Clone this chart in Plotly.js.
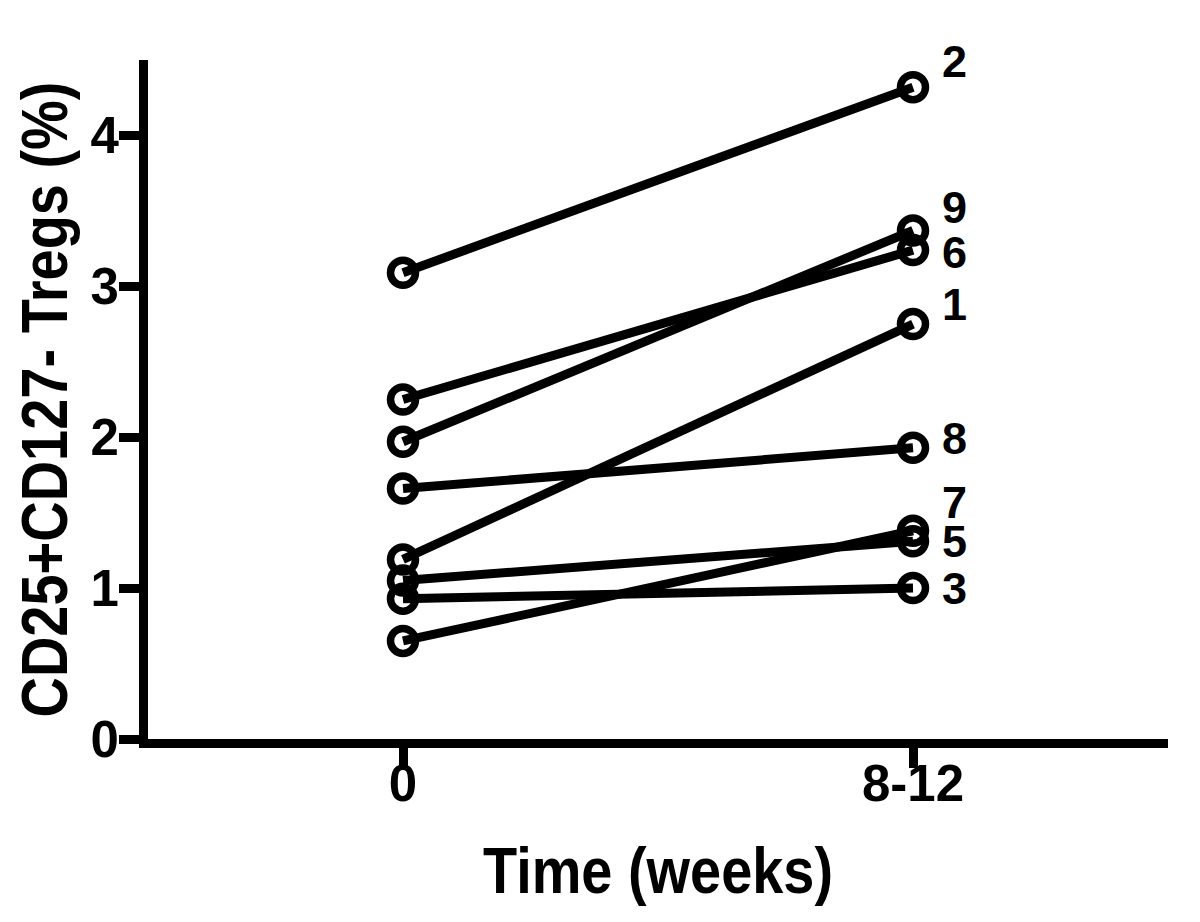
<!DOCTYPE html>
<html>
<head>
<meta charset="utf-8">
<script src="https://cdn.plot.ly/plotly-3.0.1.min.js"></script>
<style>
  html, body { margin: 0; padding: 0; background: #ffffff; }
  #chart { width: 1200px; height: 922px; }
</style>
</head>
<body>
<div id="chart"></div>
<script>
// ---- data ----
var subjects   = ['1', '2', '3', '5', '6', '7', '8', '9'];
var week0      = [1.19, 3.09, 0.93, 1.05, 2.25, 0.65, 1.66, 1.97];
var week8to12  = [2.75, 4.32, 1.00, 1.31, 3.24, 1.38, 1.93, 3.37];
var timeTickVals = [0, 1];
var timeTickText = ['0', '8-12'];
var yTickVals  = [0, 1, 2, 3, 4];

// label offsets (pixels) so labels don't collide, as in the reference
var labelYShift = {'1': 20, '2': 26, '3': 0, '5': 0, '6': -2, '7': 28, '8': 9, '9': 23};

var titleFont = {family: '"Liberation Sans", Arial, sans-serif', size: 64, color: '#000000', weight: 'bold'};
var tickFont  = {family: '"Liberation Sans", Arial, sans-serif', size: 51, color: '#000000', weight: 'bold'};
var labelFont = {family: '"Liberation Sans", Arial, sans-serif', size: 45, color: '#000000', weight: 'bold'};

var traces = subjects.map(function (s, i) {
  return {
    type: 'scatter',
    mode: 'lines+markers',
    x: [timeTickVals[0], timeTickVals[1]],
    y: [week0[i], week8to12[i]],
    name: 'Subject ' + s,
    line: {color: '#000000', width: 9},
    marker: {symbol: 'circle-open', size: 25, color: '#000000', line: {color: '#000000', width: 7.5}},
    showlegend: false,
    hoverinfo: 'x+y+name'
  };
});

var annotations = subjects.map(function (s, i) {
  return {
    x: timeTickVals[1], y: week8to12[i], xref: 'x', yref: 'y',
    text: '<b>' + s + '</b>', showarrow: false,
    xshift: 41, yshift: labelYShift[s],
    font: labelFont, xanchor: 'center', yanchor: 'middle'
  };
});

var layout = {
  width: 1200, height: 922,
  margin: {l: 148, r: 32, t: 60, b: 183, pad: 0},
  paper_bgcolor: '#ffffff', plot_bgcolor: '#ffffff',
  showlegend: false,
  xaxis: {
    range: [-0.5, 1.5],
    tickvals: timeTickVals, ticktext: timeTickText,
    showgrid: false, zeroline: false,
    showline: true, linecolor: '#000000', linewidth: 9,
    ticks: 'outside', ticklen: 20, tickwidth: 9, tickcolor: '#000000',
    tickfont: tickFont, ticklabelstandoff: -28,
    title: {text: '<b>Time (weeks)</b>', font: titleFont, standoff: 40},
    fixedrange: true
  },
  yaxis: {
    range: [0, 4.5],
    tickvals: yTickVals,
    showgrid: false, zeroline: false,
    showline: true, linecolor: '#000000', linewidth: 9,
    ticks: 'outside', ticklen: 20, tickwidth: 9, tickcolor: '#000000',
    tickfont: tickFont, ticklabelstandoff: -10,
    title: {text: '<b>CD25+CD127- Tregs (%)</b>', font: titleFont, standoff: 6},
    fixedrange: true
  },
  annotations: annotations
};

// The reference titles use a condensed bold face; compress the real text to the reference's length.
function condenseTitles(gd) {
  var targets = [['.xtitle', 350], ['.ytitle', 636]];
  targets.forEach(function (t) {
    var el = gd.querySelector(t[0]);
    if (el) {
      el.setAttribute('textLength', t[1]);
      el.setAttribute('lengthAdjust', 'spacingAndGlyphs');
    }
  });
}

Plotly.newPlot('chart', traces, layout, {displayModeBar: false}).then(function (gd) {
  condenseTitles(gd);
  gd.on('plotly_afterplot', function () { condenseTitles(gd); });
});
</script>
</body>
</html>
